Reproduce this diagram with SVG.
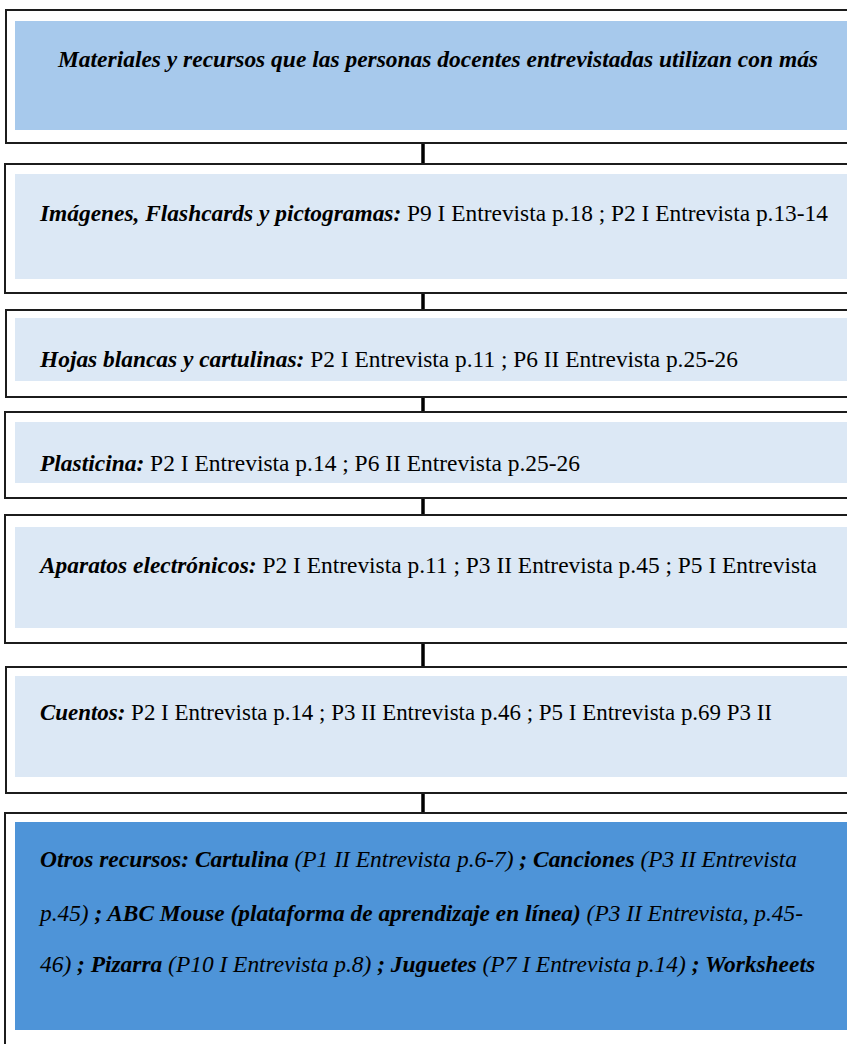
<svg xmlns="http://www.w3.org/2000/svg" width="847" height="1044" viewBox="0 0 847 1044">
  <style>
    .frame { fill: #ffffff; stroke: #1c1c1c; stroke-width: 2; }
    .head { fill: #a7c9ec; }
    .pale { fill: #dce8f5; }
    .deep { fill: #4e94d8; }
    .link { stroke: #000000; stroke-width: 3.5; fill: none; }
    .t { font-family: "Liberation Serif", "Times New Roman", serif; font-size: 23.4px; fill: #000000; }
    .bi { font-weight: bold; font-style: italic; }
    .it { font-style: italic; }
  </style>

  <!-- vertical connectors between the stacked boxes -->
  <g id="connectors">
    <line class="link" x1="423" y1="143" x2="423" y2="174"/>
    <line class="link" x1="423" y1="279" x2="423" y2="318"/>
    <line class="link" x1="423" y1="381" x2="423" y2="422"/>
    <line class="link" x1="423" y1="483" x2="423" y2="527"/>
    <line class="link" x1="423" y1="628" x2="423" y2="676"/>
    <line class="link" x1="423" y1="777" x2="423" y2="822"/>
  </g>

  <g id="node-title">
    <rect class="frame" x="6" y="10" width="900" height="133"/>
    <rect class="head" x="15" y="21" width="890" height="109"/>
    <text class="t bi" x="58" y="67" textLength="760" lengthAdjust="spacingAndGlyphs">Materiales y recursos que las personas docentes entrevistadas utilizan con más</text>
  </g>

  <g id="node-imagenes">
    <rect class="frame" x="5" y="164" width="900" height="129"/>
    <rect class="pale" x="15" y="174" width="890" height="105"/>
    <text class="t" x="40" y="221" textLength="788" lengthAdjust="spacingAndGlyphs"><tspan class="bi">Imágenes, Flashcards y pictogramas:</tspan> P9 I Entrevista p.18 ; P2 I Entrevista p.13-14</text>
  </g>

  <g id="node-hojas">
    <rect class="frame" x="6" y="310" width="900" height="87"/>
    <rect class="pale" x="15" y="318" width="890" height="63"/>
    <text class="t" x="40" y="367" textLength="698" lengthAdjust="spacingAndGlyphs"><tspan class="bi">Hojas blancas y cartulinas:</tspan> P2 I Entrevista p.11 ; P6 II Entrevista p.25-26</text>
  </g>

  <g id="node-plasticina">
    <rect class="frame" x="5" y="412" width="900" height="86"/>
    <rect class="pale" x="15" y="422" width="890" height="61"/>
    <text class="t" x="40" y="471" textLength="540" lengthAdjust="spacingAndGlyphs"><tspan class="bi">Plasticina:</tspan> P2 I Entrevista p.14 ; P6 II Entrevista p.25-26</text>
  </g>

  <g id="node-aparatos">
    <rect class="frame" x="5" y="515" width="900" height="128"/>
    <rect class="pale" x="15" y="527" width="890" height="101"/>
    <text class="t" x="40" y="573" textLength="777" lengthAdjust="spacingAndGlyphs"><tspan class="bi">Aparatos electrónicos:</tspan> P2 I Entrevista p.11 ; P3 II Entrevista p.45 ; P5 I Entrevista</text>
  </g>

  <g id="node-cuentos">
    <rect class="frame" x="6" y="667" width="900" height="126"/>
    <rect class="pale" x="15" y="676" width="890" height="101"/>
    <text class="t" x="40" y="720" textLength="732" lengthAdjust="spacingAndGlyphs"><tspan class="bi">Cuentos:</tspan> P2 I Entrevista p.14 ; P3 II Entrevista p.46 ; P5 I Entrevista p.69 P3 II</text>
  </g>

  <g id="node-otros">
    <rect class="frame" x="5" y="813" width="900" height="260"/>
    <rect class="deep" x="15" y="822" width="890" height="208"/>
    <text class="t" x="40" y="867" textLength="757" lengthAdjust="spacingAndGlyphs"><tspan class="bi">Otros recursos: Cartulina</tspan><tspan class="it"> (P1 II Entrevista p.6-7)</tspan><tspan class="bi"> ; Canciones</tspan><tspan class="it"> (P3 II Entrevista</tspan></text>
    <text class="t" x="40" y="921" textLength="763" lengthAdjust="spacingAndGlyphs"><tspan class="it">p.45)</tspan><tspan class="bi"> ; ABC Mouse (plataforma de aprendizaje en línea)</tspan><tspan class="it"> (P3 II Entrevista, p.45-</tspan></text>
    <text class="t" x="40" y="972" textLength="775" lengthAdjust="spacingAndGlyphs"><tspan class="it">46)</tspan><tspan class="bi"> ; Pizarra</tspan><tspan class="it"> (P10 I Entrevista p.8)</tspan><tspan class="bi"> ; Juguetes</tspan><tspan class="it"> (P7 I Entrevista p.14)</tspan><tspan class="bi"> ; Worksheets</tspan></text>
  </g>
</svg>
